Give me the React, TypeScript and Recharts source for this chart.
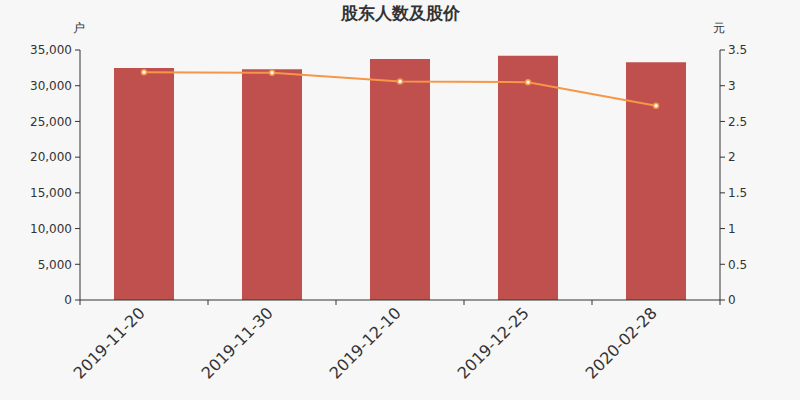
import { ComposedChart, Bar, Line, XAxis, YAxis } from "recharts";

const dates = ["2019-11-20", "2019-11-30", "2019-12-10", "2019-12-25", "2020-02-28"];
const holders = [32480, 32320, 33740, 34200, 33300];
const prices = [3.19, 3.18, 3.06, 3.05, 2.72];

const leftTicks = [0, 5000, 10000, 15000, 20000, 25000, 30000, 35000];
const rightTicks = [0, 0.5, 1, 1.5, 2, 2.5, 3, 3.5];

const chartData = dates.map((date, i) => ({
  date,
  holders: holders[i],
  price: prices[i],
}));

const FONT = "'DejaVu Sans', sans-serif";
const AXIS = "#333";
const HALF_BAND = 64;

const DateTick = (props: any) => {
  const { x, y, payload, index } = props;
  const last = index === dates.length - 1;
  return (
    <g>
      <line x1={x - HALF_BAND} y1={y - 8} x2={x - HALF_BAND} y2={y - 3} stroke={AXIS} />
      {last && <line x1={x + HALF_BAND} y1={y - 8} x2={x + HALF_BAND} y2={y - 3} stroke={AXIS} />}
      <text
        x={x + 2}
        y={y + 6}
        textAnchor="end"
        transform={`rotate(-45, ${x + 2}, ${y + 6})`}
        fontSize={16}
        fill={AXIS}
        fontFamily={FONT}
      >
        {payload.value}
      </text>
    </g>
  );
};

export default function App() {
  return (
    <div style={{ position: "absolute", left: 0, top: 0, width: 800, height: 400, background: "#f7f7f7", fontFamily: FONT }}>
      <div style={{ position: "absolute", top: 2, width: 800, textAlign: "center", fontSize: 17, fontWeight: "bold", color: "#333" }}>
        股东人数及股价
      </div>
      <div style={{ position: "absolute", left: 73, top: 20, fontSize: 12, color: AXIS }}>户</div>
      <div style={{ position: "absolute", left: 713, top: 20, fontSize: 12, color: AXIS }}>元</div>
      <ComposedChart
        width={800}
        height={400}
        data={chartData}
        margin={{ top: 50, right: 0, left: 0, bottom: 0 }}
        style={{ fontFamily: FONT }}
      >
        <XAxis
          dataKey="date"
          height={100}
          stroke={AXIS}
          tickLine={false}
          interval={0}
          tick={<DateTick />}
        />
        <YAxis
          yAxisId="left"
          width={80}
          domain={[0, 35000]}
          ticks={leftTicks}
          tickFormatter={(v: number) => v.toLocaleString("en-US")}
          stroke={AXIS}
          tick={{ fontSize: 12, fill: AXIS }}
          tickSize={5}
          tickMargin={3}
        />
        <YAxis
          yAxisId="right"
          orientation="right"
          width={80}
          domain={[0, 3.5]}
          ticks={rightTicks}
          stroke={AXIS}
          tick={{ fontSize: 12, fill: AXIS }}
          tickSize={5}
          tickMargin={3}
        />
        <Bar yAxisId="left" dataKey="holders" fill="#c0504d" barSize={60} isAnimationActive={false} />
        <Line
          yAxisId="right"
          dataKey="price"
          type="linear"
          stroke="#f79646"
          strokeWidth={2}
          dot={{ r: 2.5, fill: "#fff", stroke: "#f79646", strokeWidth: 1.5 }}
          isAnimationActive={false}
        />
      </ComposedChart>
    </div>
  );
}
